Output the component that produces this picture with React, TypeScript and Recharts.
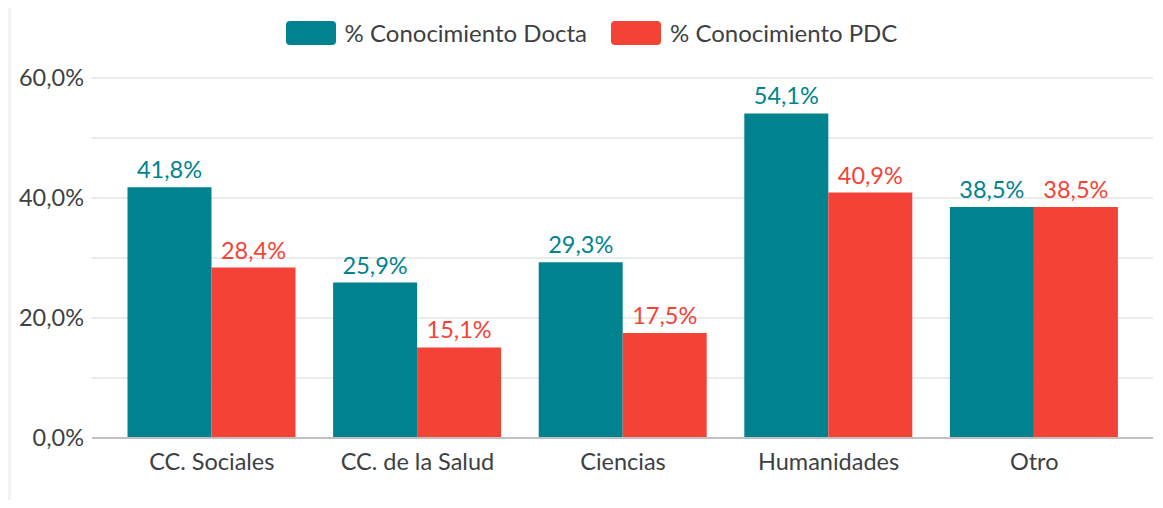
import React from 'react';
import { BarChart, Bar, XAxis, YAxis, CartesianGrid, Legend, LabelList } from 'recharts';

const categories = ['CC. Sociales', 'CC. de la Salud', 'Ciencias', 'Humanidades', 'Otro'];
const doctaValues = [41.8, 25.9, 29.3, 54.1, 38.5];
const pdcValues = [28.4, 15.1, 17.5, 40.9, 38.5];
const yTicks = [0, 10, 20, 30, 40, 50, 60];
const seriesNames = ['% Conocimiento Docta', '% Conocimiento PDC'];

const TEAL = '#00838F';
const RED = '#F44336';
const TEXT = '#3d3f42';
const FONT = 'Lato, sans-serif';
const FS = 23.5;

const data = categories.map((c, i) => ({ name: c, docta: doctaValues[i], pdc: pdcValues[i] }));

const fmt = (v: number) => v.toFixed(1).replace('.', ',') + '%';

const LegendContent = () => (
  <div style={{ display: 'flex', justifyContent: 'center', alignItems: 'center', fontFamily: FONT, fontSize: 24, color: TEXT, lineHeight: '24px' }}>
    {[TEAL, RED].map((c, i) => (
      <div key={i} style={{ display: 'flex', alignItems: 'center', marginRight: i === 0 ? 24 : 0 }}>
        <div style={{ width: 50, height: 24, background: c, borderRadius: 4, marginRight: 9 }} />
        <span style={{ whiteSpace: 'nowrap' }}>{seriesNames[i]}</span>
      </div>
    ))}
  </div>
);

export default function App() {
  return (
    <div style={{ position: 'relative', margin: -8, width: 1163, height: 508, background: '#f2f2f2', overflow: 'hidden' }}>
      <div style={{ position: 'absolute', left: 11, top: 0, width: 1170, height: 506, background: '#fff', borderRadius: 8 }} />
      <div style={{ position: 'absolute', left: 0, top: 0 }}>
        <BarChart width={1163} height={508} data={data} margin={{ top: 78, right: 10, bottom: 30, left: 0 }} barCategoryGap="9%" barGap={0}>
          <CartesianGrid vertical={false} stroke="#d6d6d6" strokeWidth={1} />
          <XAxis dataKey="name" padding={{ left: 17, right: 16 }} tickLine={false} axisLine={{ stroke: '#c0c0c0', strokeWidth: 2 }} height={40} tickMargin={9} tick={{ fill: TEXT, fontSize: FS, fontFamily: FONT }} interval={0} />
          <YAxis width={92} domain={[0, 60]} ticks={yTicks} axisLine={false} tickLine={false} tick={{ fill: TEXT, fontSize: FS, fontFamily: FONT }} tickFormatter={(v: number) => (v % 20 === 0 ? fmt(v) : '')} />
          <Legend verticalAlign="middle" align="center" wrapperStyle={{ top: 21, left: 0, width: 1183 }} content={<LegendContent />} />
          <Bar dataKey="docta" fill={TEAL} isAnimationActive={false}>
            <LabelList dataKey="docta" position="top" offset={9} formatter={(v: number) => fmt(v)} style={{ fill: TEAL, fontSize: FS, fontFamily: FONT }} />
          </Bar>
          <Bar dataKey="pdc" fill={RED} isAnimationActive={false}>
            <LabelList dataKey="pdc" position="top" offset={9} formatter={(v: number) => fmt(v)} style={{ fill: RED, fontSize: FS, fontFamily: FONT }} />
          </Bar>
        </BarChart>
      </div>
    </div>
  );
}
